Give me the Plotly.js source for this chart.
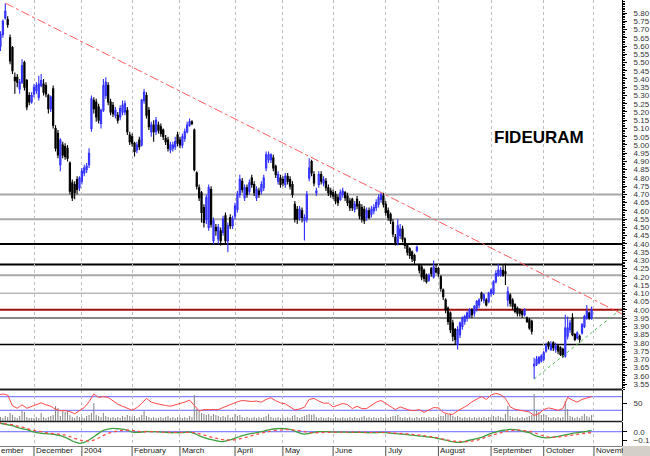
<!DOCTYPE html>
<html>
<head>
<meta charset="utf-8">
<script src="https://cdn.plot.ly/plotly-3.0.1.min.js"></script>
<style>
html,body{margin:0;padding:0;background:#ffffff;}
#chart{width:650px;height:456px;}
</style>
</head>
<body>
<div id="chart"></div>
<script>
// ---------- calendar ----------
const firstSession = '2003-11-10';
const lastSession  = '2004-10-29';
const holidays = ['2003-12-24','2003-12-25','2003-12-26','2004-01-01','2004-04-09','2004-04-12'];

// ---------- daily prices (EUR) ----------
const open = [
 5.58,5.60,5.67,5.77,5.76,5.65,5.59,5.41,5.41,5.34,5.38,5.50,5.39,5.30,5.26,
 5.31,5.33,5.29,5.36,5.37,5.36,5.30,5.22,5.34,5.10,5.07,4.88,5.00,4.99,4.98,4.89,4.77,4.76,4.79,4.74,
 4.78,4.83,4.85,4.88,5.10,5.27,5.26,5.23,5.13,5.21,5.30,5.36,5.26,5.24,5.18,5.18,5.17,5.20,5.20,5.21,5.06,
 5.05,5.01,4.97,5.03,5.00,5.27,5.30,5.21,5.08,5.12,5.08,5.12,5.11,5.09,5.04,5.03,4.97,4.98,4.99,5.06,
 5.03,5.00,5.04,5.08,5.12,5.14,5.09,4.83,4.74,4.71,4.62,4.55,4.50,4.73,4.42,4.50,4.43,4.48,4.47,4.57,4.42,4.56,4.51,
 4.57,4.61,4.70,4.78,4.68,4.74,4.72,4.80,4.76,4.68,4.72,4.72,4.74,4.86,4.91,4.91,4.92,4.87,4.78,4.80,
 4.79,4.76,4.81,4.79,4.76,4.64,4.61,4.56,4.60,4.54,4.55,4.80,4.90,4.82,4.71,4.76,4.82,4.77,4.78,4.74,4.72,
 4.71,4.70,4.68,4.67,4.70,4.71,4.69,4.66,4.67,4.61,4.67,4.64,4.62,4.61,4.56,4.60,4.58,4.60,4.62,4.64,4.67,4.69,
 4.64,4.60,4.58,4.53,4.44,4.41,4.45,4.49,4.43,4.39,4.37,4.35,4.33,4.36,4.27,4.26,4.24,4.21,4.18,4.25,4.20,4.25,
 4.25,4.20,4.12,4.06,4.01,3.98,3.92,3.88,3.79,3.85,3.90,3.93,3.95,3.96,4.00,3.98,4.01,4.03,4.10,4.06,4.06,4.05,
 4.10,4.10,4.17,4.21,4.21,4.24,4.23,4.06,4.09,4.06,4.03,4.01,4.00,3.99,3.97,3.95,3.94,3.93,3.66,3.67,3.68,3.69,
 3.70,3.75,3.80,3.76,3.80,3.76,3.78,3.77,3.76,3.72,3.84,3.88,3.95,3.85,3.83,3.84,3.86,3.90,3.95,3.98,3.95
];
const high = [
 5.64,5.69,5.76,5.86,5.78,5.67,5.60,5.44,5.43,5.40,5.52,5.51,5.40,5.32,5.32,
 5.37,5.38,5.42,5.43,5.40,5.38,5.31,5.30,5.36,5.12,5.09,5.04,5.02,5.01,5.00,4.90,4.79,4.78,4.81,4.81,
 4.86,4.88,4.89,4.98,5.30,5.29,5.28,5.25,5.22,5.40,5.41,5.38,5.28,5.26,5.23,5.20,5.24,5.27,5.27,5.23,5.08,
 5.07,5.02,5.02,5.05,5.28,5.34,5.32,5.23,5.14,5.15,5.17,5.14,5.13,5.10,5.06,5.05,5.02,5.02,5.05,5.08,
 5.05,5.07,5.10,5.14,5.16,5.15,5.10,4.84,4.76,4.72,4.64,4.70,4.76,4.75,4.56,4.52,4.52,4.50,4.57,4.59,4.53,4.58,4.57,
 4.65,4.72,4.82,4.80,4.76,4.76,4.79,4.82,4.78,4.75,4.74,4.78,4.82,4.96,4.96,4.95,4.94,4.88,4.84,4.82,
 4.81,4.83,4.83,4.81,4.78,4.66,4.63,4.63,4.62,4.58,4.72,4.92,4.91,4.84,4.74,4.84,4.84,4.81,4.80,4.76,4.74,
 4.73,4.72,4.70,4.73,4.74,4.72,4.71,4.68,4.68,4.66,4.69,4.66,4.64,4.63,4.62,4.62,4.63,4.64,4.67,4.70,4.71,4.71,
 4.66,4.62,4.59,4.55,4.46,4.55,4.52,4.51,4.44,4.40,4.38,4.36,4.34,4.39,4.28,4.27,4.25,4.22,4.22,4.26,4.30,4.27,
 4.26,4.21,4.13,4.07,4.02,3.99,3.94,3.89,3.90,3.93,3.96,3.97,3.99,4.01,4.01,4.03,4.06,4.07,4.11,4.10,4.07,4.11,
 4.13,4.18,4.24,4.28,4.26,4.27,4.28,4.14,4.10,4.07,4.04,4.02,4.01,4.00,4.01,3.96,3.95,3.94,3.71,3.72,3.72,3.73,
 3.75,3.80,3.81,3.81,3.81,3.80,3.79,3.78,3.77,3.97,3.96,3.94,3.98,3.86,3.87,3.85,3.92,3.97,4.03,3.99,4.02
];
const low = [
 5.55,5.57,5.65,5.76,5.71,5.49,5.43,5.31,5.35,5.31,5.37,5.33,5.21,5.24,5.25,
 5.29,5.31,5.27,5.35,5.30,5.29,5.19,5.20,5.10,4.96,4.92,4.84,4.92,4.91,4.90,4.70,4.66,4.67,4.70,4.72,
 4.76,4.81,4.83,4.86,5.08,5.19,5.14,5.13,5.10,5.20,5.28,5.24,5.18,5.17,5.16,5.13,5.15,5.18,5.18,5.06,5.00,
 4.99,4.93,4.95,4.97,4.99,5.25,5.16,5.09,5.05,5.02,5.06,5.07,5.05,5.03,5.00,4.96,4.95,4.96,4.97,4.99,
 4.98,4.98,5.02,5.07,5.11,5.12,4.84,4.73,4.66,4.53,4.50,4.52,4.48,4.50,4.40,4.45,4.40,4.39,4.45,4.40,4.35,4.49,4.49,
 4.55,4.59,4.68,4.71,4.66,4.68,4.70,4.74,4.69,4.66,4.68,4.70,4.72,4.84,4.89,4.89,4.84,4.80,4.76,4.74,
 4.75,4.74,4.76,4.73,4.68,4.53,4.52,4.54,4.53,4.42,4.53,4.78,4.81,4.75,4.69,4.74,4.76,4.75,4.72,4.69,4.68,
 4.67,4.64,4.63,4.66,4.68,4.66,4.63,4.60,4.60,4.59,4.61,4.55,4.53,4.52,4.54,4.55,4.56,4.58,4.60,4.62,4.65,4.62,
 4.57,4.54,4.52,4.44,4.39,4.39,4.43,4.41,4.37,4.33,4.31,4.29,4.28,4.35,4.22,4.18,4.17,4.16,4.17,4.20,4.19,4.22,
 4.20,4.11,4.06,3.98,3.91,3.86,3.81,3.79,3.76,3.83,3.88,3.91,3.93,3.95,3.95,3.96,3.99,4.01,4.05,4.04,4.02,4.04,
 4.08,4.09,4.16,4.20,4.20,4.20,4.15,4.02,4.02,4.00,3.98,3.96,3.96,3.95,3.96,3.92,3.88,3.85,3.58,3.66,3.67,3.68,
 3.69,3.74,3.76,3.75,3.75,3.74,3.73,3.72,3.71,3.71,3.82,3.86,3.84,3.81,3.82,3.80,3.85,3.89,3.94,3.94,3.94
];
const close = [
 5.62,5.67,5.75,5.81,5.73,5.51,5.45,5.39,5.38,5.38,5.48,5.35,5.23,5.26,5.30,
 5.35,5.36,5.37,5.39,5.32,5.31,5.22,5.29,5.12,4.98,4.94,5.03,4.94,4.93,4.92,4.72,4.68,4.71,4.73,4.80,
 4.84,4.86,4.87,4.95,5.28,5.22,5.17,5.15,5.21,5.36,5.38,5.26,5.20,5.19,5.21,5.15,5.22,5.24,5.25,5.08,5.02,
 5.01,4.96,5.00,4.99,5.27,5.32,5.18,5.11,5.12,5.08,5.15,5.09,5.07,5.05,5.02,4.98,5.00,5.00,5.02,5.01,
 5.00,5.05,5.08,5.12,5.14,5.13,4.85,4.75,4.68,4.59,4.53,4.68,4.74,4.52,4.54,4.48,4.50,4.42,4.55,4.42,4.51,4.51,4.55,
 4.63,4.70,4.79,4.73,4.74,4.70,4.77,4.76,4.71,4.73,4.70,4.76,4.80,4.94,4.94,4.94,4.86,4.82,4.82,4.76,
 4.77,4.81,4.78,4.75,4.70,4.55,4.55,4.61,4.56,4.56,4.70,4.86,4.83,4.77,4.72,4.82,4.78,4.79,4.74,4.71,4.70,
 4.69,4.66,4.65,4.71,4.72,4.68,4.65,4.62,4.62,4.64,4.63,4.57,4.55,4.54,4.60,4.56,4.61,4.62,4.65,4.68,4.70,4.64,
 4.59,4.56,4.54,4.46,4.41,4.51,4.49,4.43,4.39,4.35,4.33,4.31,4.30,4.38,4.24,4.20,4.19,4.17,4.21,4.22,4.26,4.23,
 4.22,4.13,4.08,4.00,3.93,3.88,3.84,3.82,3.88,3.92,3.95,3.96,3.98,4.00,3.97,4.02,4.05,4.06,4.07,4.09,4.03,4.10,
 4.12,4.17,4.22,4.24,4.24,4.21,4.22,4.11,4.04,4.02,3.99,3.98,3.98,3.97,4.00,3.93,3.89,3.87,3.67,3.70,3.71,3.72,
 3.74,3.78,3.78,3.79,3.77,3.78,3.75,3.73,3.72,3.89,3.89,3.92,3.85,3.82,3.86,3.82,3.91,3.96,3.99,3.95,4.00
];
const volume = [
 3,4,3,5,4,8,6,4,3,5,10,9,4,3,3,
 3,4,3,8,4,3,4,5,6,15,13,5,10,9,10,6,4,3,5,4,
 4,3,5,6,8,18,6,5,4,8,5,4,3,4,3,4,3,5,4,6,5,
 4,5,3,4,6,10,5,4,3,4,3,3,4,3,4,5,3,4,3,4,
 4,3,4,3,5,4,26,12,11,8,7,6,7,5,7,6,5,4,5,4,6,3,4,
 7,5,6,4,3,4,3,3,4,3,4,3,4,5,7,4,3,3,4,3,
 4,3,4,3,5,6,4,3,4,5,6,7,6,7,4,3,4,3,3,4,3,
 3,4,3,3,4,3,3,4,3,4,3,3,4,5,3,4,3,4,3,3,4,3,
 4,3,4,5,5,6,4,3,4,3,4,3,3,4,3,4,4,3,4,3,4,3,
 4,5,5,7,6,7,5,4,5,4,3,4,3,4,3,4,3,4,3,4,3,4,
 4,5,4,5,4,3,7,15,5,4,3,4,3,4,3,4,5,6,27,10,9,6,
 7,6,4,3,4,3,4,3,4,20,12,5,4,3,4,3,5,7,5,4,6
];

// ---------- indicators read every second session ----------
const rsi = [
 75,78,75,43,36,46,36,42,
 46,52,46,42,33,29,29,26,20,30,
 38,55,78,68,70,68,58,48,42,36,
 30,38,50,65,54,50,46,44,42,46,
 48,54,60,45,28,32,32,34,32,38,44,49,
 55,59,57,56,57,54,62,67,58,52,
 49,40,31,34,39,62,65,57,51,51,
 40,45,50,47,35,42,35,35,45,54,59,
 50,42,32,40,35,30,29,32,24,30,38,
 37,24,19,18,28,35,44,55,62,70,62,
 75,80,76,65,40,33,30,28,25,15,20,
 32,37,34,30,35,68,60,54,62,67,70
];
const macd = [
 0.104,0.096,0.084,0.072,0.052,0.036,0.024,0.004,
 -0.012,-0.020,-0.024,-0.028,-0.036,-0.048,-0.068,-0.096,-0.124,-0.140,
 -0.128,-0.100,-0.060,-0.020,0.016,0.032,0.040,0.036,0.032,0.020,
 -0.004,-0.008,-0.004,0.004,0.000,0.000,-0.004,-0.008,-0.012,-0.012,
 -0.012,-0.008,-0.004,-0.020,-0.048,-0.072,-0.088,-0.100,-0.112,-0.120,-0.104,-0.088,
 -0.068,-0.048,-0.032,-0.020,-0.012,0.000,0.016,0.028,0.036,0.040,
 0.036,0.028,0.008,-0.016,-0.028,-0.020,-0.008,0.000,0.000,0.000,
 -0.004,-0.004,-0.004,-0.008,-0.008,-0.008,-0.008,-0.012,-0.012,-0.012,-0.008,
 -0.012,-0.016,-0.024,-0.028,-0.032,-0.040,-0.044,-0.052,-0.056,-0.064,-0.072,
 -0.084,-0.096,-0.108,-0.120,-0.128,-0.124,-0.108,-0.096,-0.084,-0.068,-0.044,
 -0.020,-0.004,0.012,0.020,0.028,0.024,0.012,0.000,-0.012,-0.040,-0.060,
 -0.072,-0.072,-0.064,-0.056,-0.044,-0.032,-0.020,-0.012,-0.004,0.004,0.016
];
const signal = [
 0.112,0.100,0.092,0.084,0.068,0.056,0.040,0.024,
 0.008,0.000,-0.012,-0.020,-0.024,-0.032,-0.040,-0.060,-0.080,-0.100,
 -0.108,-0.112,-0.100,-0.076,-0.044,-0.020,-0.004,0.008,0.016,0.020,
 0.016,0.008,0.000,0.000,0.000,0.000,-0.004,-0.004,-0.008,-0.008,
 -0.008,-0.008,-0.008,-0.012,-0.024,-0.040,-0.056,-0.072,-0.084,-0.096,-0.100,-0.100,
 -0.092,-0.080,-0.064,-0.048,-0.032,-0.016,-0.004,0.008,0.016,0.020,
 0.024,0.024,0.020,0.012,0.000,-0.008,-0.012,-0.012,-0.008,-0.008,
 -0.004,-0.004,-0.004,-0.004,-0.004,-0.004,-0.004,-0.008,-0.008,-0.008,-0.008,
 -0.008,-0.012,-0.016,-0.020,-0.024,-0.028,-0.036,-0.040,-0.048,-0.056,-0.064,
 -0.076,-0.088,-0.100,-0.112,-0.116,-0.120,-0.120,-0.112,-0.100,-0.084,-0.064,
 -0.044,-0.028,-0.012,0.000,0.012,0.020,0.020,0.012,0.004,-0.012,-0.032,
 -0.052,-0.064,-0.068,-0.064,-0.056,-0.048,-0.040,-0.032,-0.024,-0.016,-0.012
];

// ---------- drawn levels & trend lines ----------
const levels = [4.70, 4.55, 4.40, 4.275, 4.21, 4.10, 4.00, 3.95, 3.79];
const resistanceDates = ['2003-11-13', '2004-11-16 17:00'];
const resistancePrices = [5.86, 3.975];
const supportDates = ['2004-09-27', '2004-11-16 17:00'];
const supportPrices = [3.58, 4.01];

// ---------- axis labels ----------
const monthTicks = ['2003-12-01','2004-01-02','2004-02-02','2004-03-01','2004-04-01','2004-05-03',
                    '2004-06-01','2004-07-01','2004-08-02','2004-09-01','2004-10-01','2004-11-01'];
const monthLabels = ['December','2004','February','March','April','May',
                     'June','July','August','September','October','November'];
const firstMonthLabel = 'November';
const chartTitle = 'FIDEURAM';

// ---------- build ----------
function buildSessions(){
  const out = [];
  let t = Date.parse(firstSession + 'T00:00:00Z');
  const end = Date.parse(lastSession + 'T00:00:00Z');
  while (t <= end){
    const d = new Date(t);
    const wd = d.getUTCDay();
    const s = d.toISOString().slice(0,10);
    if (wd !== 0 && wd !== 6 && holidays.indexOf(s) < 0) out.push(s);
    t += 86400000;
  }
  return out;
}
const dates = buildSessions();
const sampleDates = dates.filter((_, i) => i % 2 === 0);

const levelStyle = [
  {c:'#a8a8a8', w:2}, {c:'#a8a8a8', w:2}, {c:'#000000', w:2}, {c:'#000000', w:2},
  {c:'#a8a8a8', w:2}, {c:'#b8b8b8', w:1.5}, {c:'#a01010', w:2}, {c:'#606060', w:1.5}, {c:'#000000', w:1.5}
];

const traces = [
  {
    type:'candlestick', x:dates, open:open, high:high, low:low, close:close,
    xaxis:'x', yaxis:'y', whiskerwidth:0, hoverinfo:'skip',
    increasing:{line:{color:'#3030ff', width:1.1}, fillcolor:'#d4d4ff'},
    decreasing:{line:{color:'#000000', width:1.1}, fillcolor:'#000000'}
  },
  {
    type:'scatter', mode:'lines', x:resistanceDates, y:resistancePrices, xaxis:'x', yaxis:'y',
    line:{color:'#ff5a5a', width:1, dash:'dashdot'}, hoverinfo:'skip'
  },
  {
    type:'scatter', mode:'lines', x:supportDates, y:supportPrices, xaxis:'x', yaxis:'y',
    line:{color:'#50c050', width:1, dash:'dot'}, hoverinfo:'skip'
  },
  {
    type:'bar', x:dates, y:volume, xaxis:'x', yaxis:'y2',
    marker:{color:'#8a8a8a', line:{width:0}}, width:0.45*86400000, hoverinfo:'skip'
  },
  {
    type:'scatter', mode:'lines', x:sampleDates, y:rsi, xaxis:'x', yaxis:'y4',
    line:{color:'#ff4848', width:1}, hoverinfo:'skip'
  },
  {
    type:'scatter', mode:'lines', x:sampleDates, y:macd, xaxis:'x', yaxis:'y3',
    line:{color:'#3ca03c', width:1.3, shape:'spline'}, hoverinfo:'skip'
  },
  {
    type:'scatter', mode:'lines', x:sampleDates, y:signal, xaxis:'x', yaxis:'y3',
    line:{color:'#ff4848', width:1.3, dash:'dot', shape:'spline'}, hoverinfo:'skip'
  }
];

const H = 446; // plot-area height in px
const shapes = [];
levels.forEach((lv, i) => {
  shapes.push({type:'line', xref:'paper', yref:'y', x0:0, x1:1, y0:lv, y1:lv, layer:'between',
               line:{color:levelStyle[i].c, width:levelStyle[i].w}});
});
[30, 70].forEach(v => shapes.push({type:'line', xref:'paper', yref:'y4', x0:0, x1:1, y0:v, y1:v,
               layer:'between', line:{color:'#6464ff', width:1}}));
shapes.push({type:'line', xref:'paper', yref:'y3', x0:0, x1:1, y0:0, y1:0, layer:'between',
             line:{color:'#6464ff', width:1}});
// panel separators
shapes.push({type:'line', xref:'paper', yref:'paper', x0:0, x1:1, y0:(H-389.5)/H, y1:(H-389.5)/H,
             line:{color:'#202020', width:2}});
shapes.push({type:'line', xref:'paper', yref:'paper', x0:0, x1:1, y0:(H-421.5)/H, y1:(H-421.5)/H,
             line:{color:'#202020', width:1.5}});
// month separators in the label strip
monthTicks.forEach(d => shapes.push({type:'line', xref:'x', yref:'paper', x0:d, x1:d, y0:0, y1:-10/H,
             line:{color:'#505050', width:1}}));
// grey corner box
shapes.push({type:'rect', xref:'paper', yref:'paper', x0:1, x1:1.06, y0:-0.04, y1:0, layer:'above',
             fillcolor:'#d4d0c8', line:{width:0}});

const labelFont = {family:'Liberation Sans, Arial, sans-serif', size:8, color:'#222'};
const annotations = [
  {xref:'paper', yref:'paper', x:0.8666, y:(H-137)/H, xanchor:'center', yanchor:'middle', showarrow:false,
   text:'<b>' + chartTitle + '</b>', font:{family:'Liberation Sans, Arial, sans-serif', size:17, color:'#000'}}
];
// label of the month that started before the visible range (only its tail shows)
annotations.push({xref:'paper', yref:'paper', x:0, y:-5/H, xanchor:'left', yanchor:'middle',
   width:23, align:'right', borderpad:0,
   showarrow:false, text:firstMonthLabel, font:labelFont});
monthTicks.forEach((d, i) => {
  const last = i === monthTicks.length - 1;
  const a = {xref:'x', yref:'paper', x:d, xshift:1, y:-5/H, xanchor:'left', yanchor:'middle',
             showarrow:false, text:monthLabels[i], font:labelFont, align:'left', borderpad:0};
  if (last) a.width = 27; // cut by the grey corner, as in the original
  annotations.push(a);
});

const n = dates.length;
if ([open, high, low, close, volume].some(a => a.length !== n) ||
    [rsi, macd, signal].some(a => a.length !== sampleDates.length)) {
  annotations.push({xref:'paper', yref:'paper', x:0.5, y:0.5, showarrow:false,
    text:'LENGTH MISMATCH n=' + n + ' o=' + open.length + ' h=' + high.length + ' l=' + low.length +
         ' c=' + close.length + ' v=' + volume.length + ' r=' + rsi.length + ' m=' + macd.length + ' s=' + signal.length,
    font:{size:14, color:'red'}});
}

// price tick labels 3.55 .. 5.80
const priceTicks = [];
for (let k = 71; k <= 116; k++) priceTicks.push(k / 20);

const axisFont = {family:'Liberation Sans, Arial, sans-serif', size:8, color:'#333'};

const layout = {
  width:650, height:456,
  margin:{l:0, r:28, t:0, b:10, pad:0},
  paper_bgcolor:'#ffffff', plot_bgcolor:'#ffffff',
  showlegend:false,
  font:axisFont,
  xaxis:{
    type:'date',
    range:['2003-11-10 19:00', '2004-11-16 17:00'],
    rangebreaks:[{bounds:['sat','mon']}, {values:holidays}],
    rangeslider:{visible:false},
    anchor:'y3',
    tickvals:monthTicks, showticklabels:false, ticks:'',
    showgrid:true, gridcolor:'#bdbdbd', griddash:'dot', gridwidth:1,
    showline:true, linecolor:'#808080', zeroline:false, fixedrange:true
  },
  yaxis:{
    domain:[(H-389)/H, 1], range:[3.52, 5.879],
    side:'right', anchor:'x',
    tickvals:priceTicks, tickformat:'.2f',
    ticks:'outside', ticklen:4, tickcolor:'#000', ticklabelstandoff:5,
    minor:{dtick:0.01, tick0:0, ticks:'outside', ticklen:2, tickcolor:'#000', showgrid:false},
    showgrid:false, showline:true, linecolor:'#000', zeroline:false, tickfont:axisFont
  },
  yaxis2:{
    domain:[(H-421)/H, (H-390)/H], range:[0, 31],
    side:'right', anchor:'x', showticklabels:false, ticks:'',
    showgrid:false, showline:true, linecolor:'#000', zeroline:false
  },
  yaxis4:{
    overlaying:'y2', range:[-1.5, 89.7], side:'right', anchor:'x',
    tickvals:[50], ticks:'outside', ticklen:4, tickcolor:'#000', ticklabelstandoff:5,
    showgrid:false, showline:false, zeroline:false, tickfont:axisFont
  },
  yaxis3:{
    domain:[0, (H-422)/H], range:[-0.172, 0.117],
    side:'right', anchor:'x',
    tickvals:[0, -0.1], tickformat:'.1f',
    ticks:'outside', ticklen:4, tickcolor:'#000', ticklabelstandoff:5,
    showgrid:false, showline:true, linecolor:'#000', zeroline:false, tickfont:axisFont
  },
  shapes:shapes,
  annotations:annotations
};

Plotly.newPlot('chart', traces, layout, {staticPlot:true, displayModeBar:false});
</script>
</body>
</html>
